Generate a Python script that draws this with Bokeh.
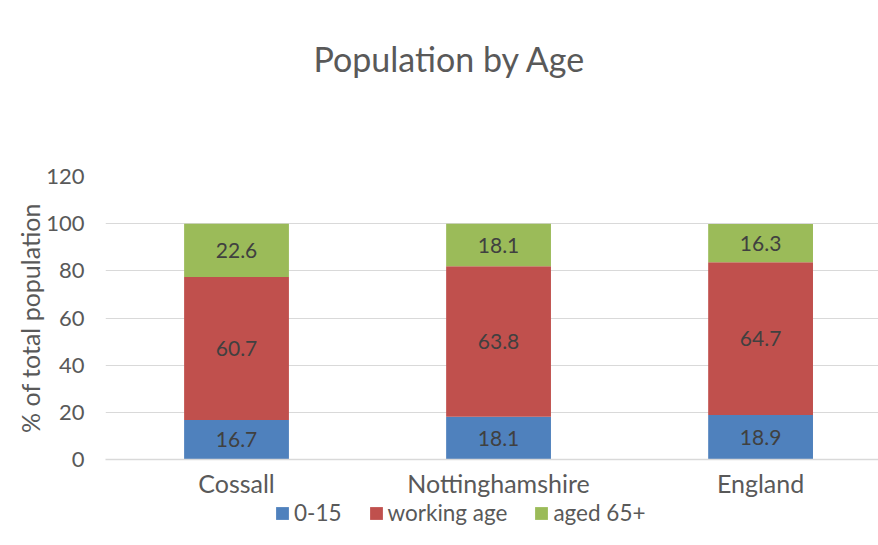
from bokeh.plotting import figure
from bokeh.models import (Range1d, FixedTicker, Legend, LegendItem, Title,
                          ColumnDataSource, LabelSet, Column)
from bokeh.core.properties import value
from bokeh.embed import file_html
from bokeh.resources import INLINE

# ---- data ----
categories = ["Cossall", "Nottinghamshire", "England"]
series_names = ["0-15", "working age", "aged 65+"]
age_0_15 = [16.7, 18.1, 18.9]
working_age = [60.7, 63.8, 64.7]
aged_65_plus = [22.6, 18.1, 16.3]
y_ticks = [0, 20, 40, 60, 80, 100, 120]
colors = ["#4F81BD", "#C0504D", "#9BBB59"]

FONT = "Lato"
TXT = "#595959"

xs = list(range(len(categories)))
src = ColumnDataSource(dict(x=xs, a=age_0_15, w=working_age, o=aged_65_plus))

W = 878
p = figure(width=W, height=500, output_backend="svg", toolbar_location=None,
           x_range=Range1d(-0.5, 2.45), y_range=Range1d(0, 120),
           min_border_left=105, min_border_right=0, min_border_top=176,
           min_border_bottom=37)
p.outline_line_color = None
p.background_fill_color = "white"
p.border_fill_color = "white"

rs = p.vbar_stack(["a", "w", "o"], x="x", width=0.4, source=src,
                  color=colors, line_color=None)

# data labels at the middle of each segment
stacks = [age_0_15, working_age, aged_65_plus]
lx, ly, lt = [], [], []
for i in range(len(categories)):
    base = 0.0
    for s in stacks:
        lx.append(i)
        ly.append(base + s[i] / 2)
        lt.append(f"{s[i]:.1f}")
        base += s[i]
lsrc = ColumnDataSource(dict(x=lx, y=ly, t=lt))
p.add_layout(LabelSet(x="x", y="y", text="t", source=lsrc, text_align="center",
                      text_baseline="middle", text_font=value(FONT),
                      text_font_size=value("21px"), text_color=value("#404040")))

# axes
p.yaxis.ticker = FixedTicker(ticks=y_ticks)
p.yaxis.axis_line_color = None
p.yaxis.major_tick_line_color = None
p.yaxis.minor_tick_line_color = None
p.yaxis.major_label_text_font = FONT
p.yaxis.major_label_text_font_size = "22px"
p.yaxis.major_label_text_color = TXT
p.yaxis.major_label_standoff = 15
p.yaxis.axis_label = "% of total population"
p.yaxis.axis_label_text_font = FONT
p.yaxis.axis_label_text_font_size = "25px"
p.yaxis.axis_label_text_font_style = "normal"
p.yaxis.axis_label_text_color = TXT
p.yaxis.axis_label_standoff = -2

p.xaxis.ticker = FixedTicker(ticks=xs)
p.xaxis.major_label_overrides = {i: c for i, c in zip(xs, categories)}
p.xaxis.axis_line_color = "#D9D9D9"
p.xaxis.axis_line_width = 1.5
p.xaxis.major_tick_line_color = None
p.xaxis.minor_tick_line_color = None
p.xaxis.major_label_text_font = FONT
p.xaxis.major_label_text_font_size = "25px"
p.xaxis.major_label_text_color = TXT
p.xaxis.major_label_standoff = 2

p.xgrid.grid_line_color = None
p.ygrid.grid_line_color = "#D9D9D9"
p.ygrid.grid_line_width = 1
p.ygrid.ticker = FixedTicker(ticks=y_ticks)

# spacer title (closest to frame), then the visible title above it
p.add_layout(Title(text=" ", text_font_size="10px", standoff=85,
                   text_color="white"), "above")
p.add_layout(Title(text="Population by Age", text_font=FONT,
                   text_font_size="34px", text_font_style="normal",
                   text_color=TXT, align="left", offset=208, standoff=0), "above")

# legend strip below the chart (same series as hidden legend handles)
lf = figure(width=W, height=29, output_backend="svg", toolbar_location=None,
            x_range=Range1d(-0.5, 2.45), y_range=Range1d(0, 1),
            x_axis_type=None, y_axis_type=None, min_border=0)
lf.outline_line_color = None
lf.grid.visible = False
lf.background_fill_color = "white"
lf.border_fill_color = "white"
lrs = lf.vbar_stack(["a", "w", "o"], x="x", width=0.4, source=src,
                    color=colors, line_color=None)
for r in lrs:
    r.visible = False
legend = Legend(items=[LegendItem(label=n, renderers=[r]) for n, r in zip(series_names, lrs)],
                orientation="horizontal", location=(169, 3),
                padding=0, margin=0, spacing=26, label_standoff=4,
                glyph_width=16, glyph_height=16,
                label_text_font=FONT, label_text_font_size="22.5px",
                label_text_color=TXT, border_line_color=None,
                background_fill_alpha=0, inactive_fill_alpha=0)
lf.add_layout(legend, "center")

layout = Column(p, lf, spacing=0)
open("out.html", "w").write(file_html(layout, INLINE))
